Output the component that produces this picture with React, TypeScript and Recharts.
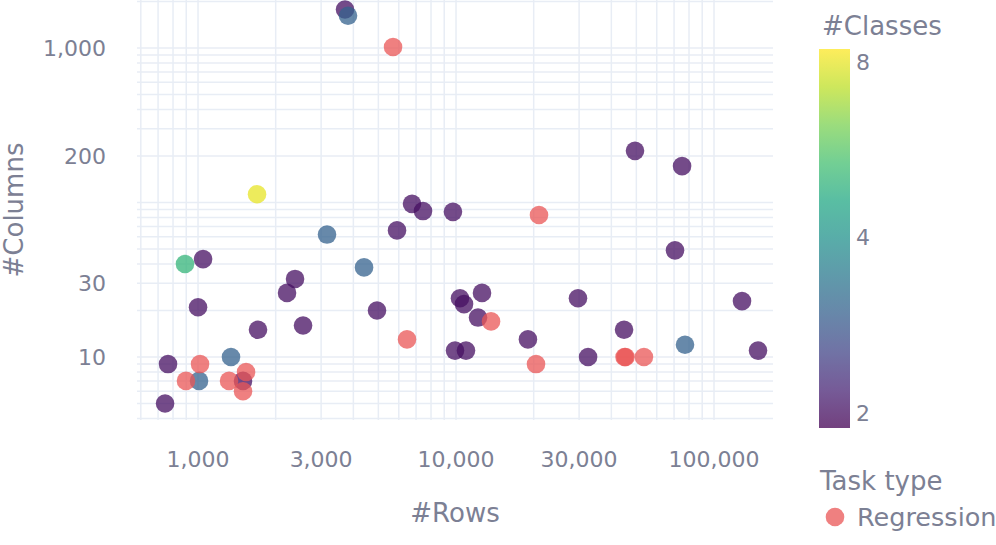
import React from "react";
import { ScatterChart, Scatter, XAxis, YAxis, CartesianGrid, Label } from "recharts";

// classification datasets
const clsRows = [3713, 3814, 1693, 3162, 890, 1046, 2377, 4400, 5906, 6753, 7447, 9730, 49400, 75200, 70600, 1000, 2213, 1708, 2553, 4940, 765, 745, 1009, 1342, 1494, 10360, 10740, 12610, 12170, 9910, 10930, 19000, 29700, 32500, 44800, 77200, 128400, 148100];
const clsCols = [1776, 1617, 113, 62, 40, 43, 32, 38, 66, 98, 88, 87, 216, 172, 49, 21, 26, 15, 16, 20, 9, 5, 7, 10, 7, 24, 22, 26, 18, 11, 11, 13, 24, 10, 15, 12, 23, 11];
const clsClasses = [2, 3, 8, 3, 5, 2, 2, 3, 2, 2, 2, 2, 2, 2, 2, 2, 2, 2, 2, 2, 2, 2, 3, 3, 2, 2, 2, 2, 2, 2, 2, 2, 2, 2, 2, 3, 2, 2];

// regression datasets
const regRows = [5700, 20970, 6457, 898, 1018, 1319, 1535, 1494, 13670, 20420, 45000, 45400, 53500];
const regCols = [1015, 83, 13, 7, 9, 7, 8, 6, 17, 9, 10, 10, 10];

const xTicks = [600, 700, 800, 900, 1000, 2000, 3000, 4000, 5000, 6000, 7000, 8000, 9000, 10000, 20000, 30000, 40000, 50000, 60000, 70000, 80000, 90000, 100000];
const xLabels = [1000, 3000, 10000, 30000, 100000];
const yTicks = [4, 5, 6, 7, 8, 9, 10, 20, 30, 40, 50, 60, 70, 80, 90, 100, 200, 300, 400, 500, 600, 700, 800, 900, 1000, 2000];
const yLabels = [10, 30, 200, 1000];
const classTicks = [2, 4, 8];
const classRange = [1.886, 8.42];

const VIRIDIS = ["#440154", "#482475", "#414487", "#355f8d", "#2a788e", "#21918c", "#22a884", "#44bf70", "#7ad151", "#bddf26", "#fde725"];
const TEXT = "#7c8094";
const GRID = "#e8edf5";
const REG_COLOR = "#ea5555";
const OPACITY = 0.75;

const clsData = clsRows.map((r, i) => ({ rows: r, cols: clsCols[i], cls: clsClasses[i] }));
const regData = regRows.map((r, i) => ({ rows: r, cols: regCols[i] }));

function classFrac(c: number) {
  return Math.log(c / classRange[0]) / Math.log(classRange[1] / classRange[0]);
}

function viridis(t: number) {
  const s = Math.min(Math.max(t, 0), 1) * (VIRIDIS.length - 1);
  const i = Math.min(Math.floor(s), VIRIDIS.length - 2);
  const f = s - i;
  const a = VIRIDIS[i], b = VIRIDIS[i + 1];
  const ch = (h: string, k: number) => parseInt(h.slice(1 + k * 2, 3 + k * 2), 16);
  const rgb = [0, 1, 2].map((k) => Math.round(ch(a, k) + (ch(b, k) - ch(a, k)) * f));
  return `rgb(${rgb.join(",")})`;
}

const fmt = (v: number) => v.toLocaleString("en-US");

const ClsDot = (p: any) => (
  <circle cx={p.cx} cy={p.cy} r={9.3} fill={viridis(classFrac(p.payload.cls))} fillOpacity={OPACITY} />
);
const RegDot = (p: any) => <circle cx={p.cx} cy={p.cy} r={9.3} fill={REG_COLOR} fillOpacity={OPACITY} />;

// colorbar geometry
const CB = { x: 819, top: 49, w: 31, h: 379 };

export default function App() {
  return (
    <div style={{ position: "absolute", left: 0, top: 0, width: 996, height: 545, fontFamily: "'DejaVu Sans', Verdana, sans-serif", background: "#fff" }}>
      <ScatterChart width={996} height={545} margin={{ top: 0, right: 223, bottom: 0, left: 0 }}>
        <CartesianGrid stroke={GRID} strokeWidth={1.5} syncWithTicks />
        <XAxis
          dataKey="rows"
          type="number"
          scale="log"
          domain={[580, 169300]}
          allowDataOverflow
          ticks={xTicks}
          interval={0}
          height={125}
          tickLine={false}
          axisLine={false}
          tickSize={0}
          tickMargin={31}
          tick={{ fill: TEXT, fontSize: 22 }}
          tickFormatter={(v: number) => (xLabels.includes(v) ? fmt(v) : "")}
        >
          <Label value="#Rows" position="insideBottom" offset={23} fill={TEXT} fontSize={26} />
        </XAxis>
        <YAxis
          dataKey="cols"
          type="number"
          scale="log"
          domain={[3.91, 2045]}
          allowDataOverflow
          ticks={yTicks}
          interval={0}
          width={137}
          tickLine={false}
          axisLine={false}
          tickSize={0}
          tickMargin={31}
          tick={{ fill: TEXT, fontSize: 22 }}
          tickFormatter={(v: number) => (yLabels.includes(v) ? fmt(v) : "")}
        >
          <Label
            content={({ viewBox }: any) => {
              const cx = viewBox.x + 23;
              const cy = viewBox.y + viewBox.height / 2;
              return (
                <text x={cx} y={cy} transform={`rotate(-90 ${cx} ${cy})`} textAnchor="middle" fill={TEXT} fontSize={26}>
                  #Columns
                </text>
              );
            }}
          />
        </YAxis>
        <Scatter data={clsData} shape={ClsDot} isAnimationActive={false} />
        <Scatter data={regData} shape={RegDot} isAnimationActive={false} />
      </ScatterChart>
      <svg width={996} height={545} style={{ position: "absolute", left: 0, top: 0, pointerEvents: "none" }}>
        <defs>
          <linearGradient id="cbar" x1="0" y1="1" x2="0" y2="0">
            {VIRIDIS.map((c, i) => (
              <stop key={i} offset={`${(i / (VIRIDIS.length - 1)) * 100}%`} stopColor={c} />
            ))}
          </linearGradient>
        </defs>
        <text x={822} y={35} fill={TEXT} fontSize={26}>#Classes</text>
        <rect x={CB.x} y={CB.top} width={CB.w} height={CB.h} fill="url(#cbar)" opacity={OPACITY} />
        {classTicks.map((c) => (
          <text key={c} x={CB.x + CB.w + 6} y={CB.top + CB.h * (1 - classFrac(c))} dy="0.36em" fill={TEXT} fontSize={22}>
            {c}
          </text>
        ))}
        <text x={820} y={490} fill={TEXT} fontSize={26}>Task type</text>
        <circle cx={835} cy={517} r={9.3} fill={REG_COLOR} fillOpacity={OPACITY} />
        <text x={857} y={526} fill={TEXT} fontSize={25.5}>Regression</text>
      </svg>
    </div>
  );
}
